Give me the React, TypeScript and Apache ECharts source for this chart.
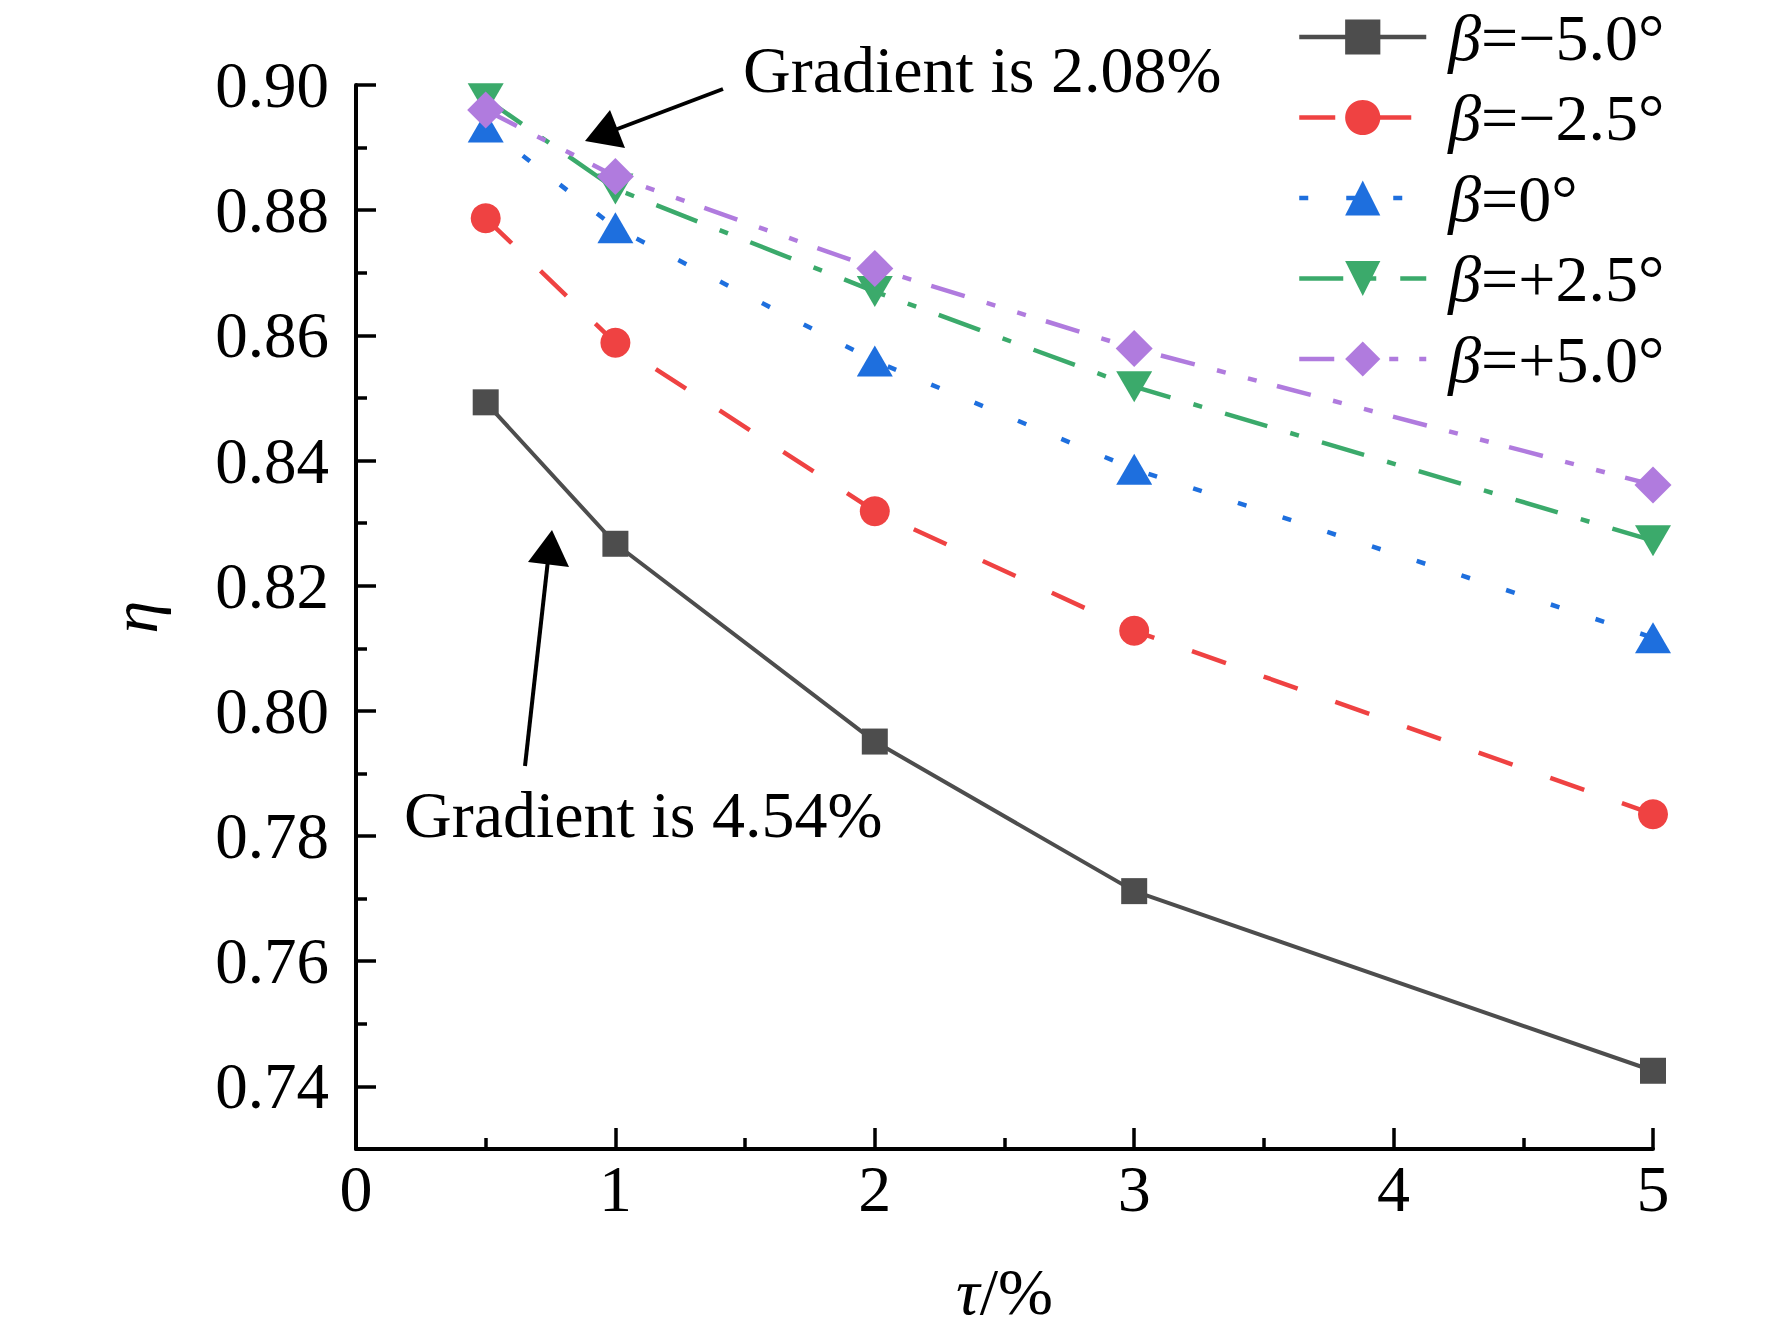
import React, { useEffect, useRef } from "react";
import * as echarts from "echarts";

const tau = [0.5, 1, 2, 3, 5];
const seriesNames = ["β=−5.0°", "β=−2.5°", "β=0°", "β=+2.5°", "β=+5.0°"];
const etaM50 = [0.8493, 0.8267, 0.7951, 0.7712, 0.7425];
const etaM25 = [0.8787, 0.8588, 0.8319, 0.8128, 0.7835];
const eta0 = [0.8933, 0.8772, 0.8559, 0.8386, 0.8117];
const etaP25 = [0.8978, 0.8834, 0.867, 0.8518, 0.8272];
const etaP50 = [0.896, 0.8854, 0.8707, 0.8579, 0.8361];
const yMajorTicks = [0.74, 0.76, 0.78, 0.8, 0.82, 0.84, 0.86, 0.88, 0.9];
const yMinorTicks = [0.75, 0.77, 0.79, 0.81, 0.83, 0.85, 0.87, 0.89];
const noteTop = "Gradient is 2.08%";
const noteBottom = "Gradient is 4.54%";

const FONT = '"Liberation Serif", "Times New Roman", serif';

export default function App() {
  const ref = useRef<HTMLDivElement>(null);
  useEffect(() => {
    if (!ref.current) return;
    const chart = echarts.init(ref.current, undefined, { renderer: "svg" });
    const pair = (ys: number[]) => tau.map((t, i) => [t, ys[i]]);
    const mk = (
      name: string,
      ys: number[],
      color: string,
      symbol: string,
      size: number | number[],
      dash: any,
      width: number
    ) => ({
      name,
      type: "line",
      data: pair(ys),
      symbol,
      symbolSize: size,
      itemStyle: { color, opacity: 1 },
      lineStyle: { color, width, type: dash },
      emphasis: { disabled: true },
    });
    const option: any = {
      animation: false,
      backgroundColor: "#fff",
      grid: { left: 356, top: 85, right: 119, bottom: 184 },
      xAxis: {
        type: "value",
        min: 0,
        max: 5,
        interval: 1,
        name: "{i|τ}/%",
        nameLocation: "middle",
        nameGap: 109,
        nameTextStyle: {
          fontFamily: FONT,
          fontSize: 66,
          color: "#000",
          rich: { i: { fontStyle: "italic", fontFamily: FONT, fontSize: 66, color: "#000" } },
        },
        axisLine: { show: true, lineStyle: { color: "#000", width: 4 } },
        axisTick: { show: true, inside: true, length: 21, lineStyle: { color: "#000", width: 3.5 } },
        minorTick: { show: true, splitNumber: 2, length: 11, lineStyle: { color: "#000", width: 3.5 } },
        axisLabel: { fontFamily: FONT, fontSize: 66, color: "#000", margin: 6 },
        splitLine: { show: false },
      },
      yAxis: [
        {
          type: "value",
          min: 0.73,
          max: 0.9,
          name: "η",
          nameLocation: "middle",
          nameGap: 189,
          nameTextStyle: { fontFamily: FONT, fontSize: 66, fontStyle: "italic", color: "#000" },
          axisLine: { show: true, lineStyle: { color: "#000", width: 4 } },
          axisTick: {
            show: true,
            inside: true,
            length: 20,
            customValues: yMajorTicks,
            lineStyle: { color: "#000", width: 3.5 },
          },
          axisLabel: {
            customValues: yMajorTicks,
            fontFamily: FONT,
            fontSize: 65,
            color: "#000",
            margin: 27,
            formatter: (v: number) => v.toFixed(2),
          },
          splitLine: { show: false },
        },
        {
          type: "value",
          min: 0.73,
          max: 0.9,
          position: "left",
          axisLine: { show: false },
          axisTick: {
            show: true,
            inside: true,
            length: 11,
            customValues: yMinorTicks,
            lineStyle: { color: "#000", width: 3.5 },
          },
          axisLabel: { show: false },
          splitLine: { show: false },
        },
      ],
      legend: {
        orient: "vertical",
        left: 1297,
        top: 4,
        padding: 0,
        itemWidth: 127,
        itemHeight: 44,
        itemGap: 14.5,
        data: seriesNames,
        lineStyle: { width: 4.5 },
        formatter: (n: string) => "{i|β}{t|" + n.slice(1) + "}",
        textStyle: {
          fontFamily: FONT,
          fontSize: 66,
          color: "#000",
          lineHeight: 66,
          rich: {
            i: { fontStyle: "italic", fontFamily: FONT, fontSize: 66, color: "#000", lineHeight: 66, padding: [0, 0, 0, 17] },
            t: { fontFamily: FONT, fontSize: 66, color: "#000", lineHeight: 66 },
          },
        },
      },
      series: [
        mk(seriesNames[0], etaM50, "#4D4D4D", "rect", 26, "solid", 4),
        mk(seriesNames[1], etaM25, "#EF4242", "circle", 30, [36, 40], 4.5),
        mk(seriesNames[2], eta0, "#1E6FDE", "triangle", [36, 31], [9, 38], 4.5),
        mk(seriesNames[3], etaP25, "#3BAA6B", "path://M0,0L36,0L18,31Z", [36, 31], [44, 24, 9, 24], 4.5),
        mk(seriesNames[4], etaP50, "#B07BDE", "diamond", [37, 37], [35, 23, 9, 23, 9, 21], 4.5),
      ],
      graphic: [
        {
          type: "text",
          x: 743,
          y: 69,
          style: { text: noteTop, font: "66px " + FONT, fill: "#000", align: "left", verticalAlign: "middle" },
        },
        {
          type: "text",
          x: 404,
          y: 814,
          style: { text: noteBottom, font: "66px " + FONT, fill: "#000", align: "left", verticalAlign: "middle" },
        },
        {
          type: "line",
          shape: { x1: 723, y1: 89, x2: 612, y2: 131 },
          style: { stroke: "#000", lineWidth: 4 },
        },
        {
          type: "polygon",
          shape: { points: [[585, 141], [610, 110], [625, 148]] },
          style: { fill: "#000" },
        },
        {
          type: "line",
          shape: { x1: 525, y1: 766, x2: 548, y2: 560 },
          style: { stroke: "#000", lineWidth: 4 },
        },
        {
          type: "polygon",
          shape: { points: [[552, 530], [528, 562], [569, 567]] },
          style: { fill: "#000" },
        },
      ],
    };
    chart.setOption(option);
    return () => chart.dispose();
  }, []);
  return (
    <div
      ref={ref}
      style={{ position: "absolute", left: 0, top: 0, width: 1772, height: 1333, background: "#fff" }}
    />
  );
}
